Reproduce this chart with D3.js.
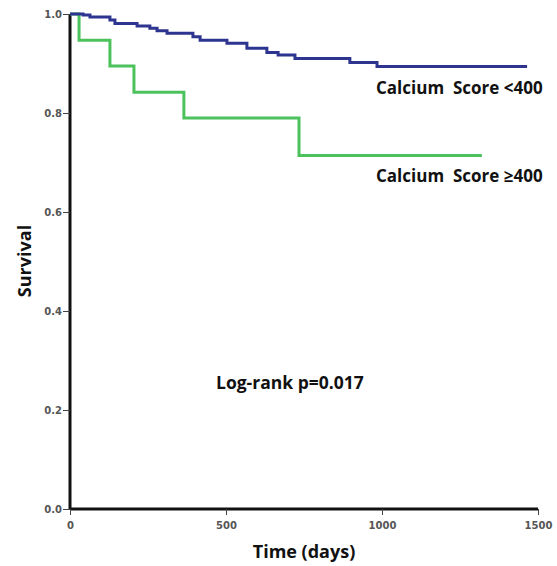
<!DOCTYPE html>
<html>
    <body style="margin:0;background:#fff">
        <svg></svg>
        <script src="https://d3js.org/d3.v7.min.js"></script>
        <script>
            const width = 557;
            const height = 566;

            // Calcium score < 400
            const lowTimes = [0, 42, 64, 128, 144, 215, 256, 279, 311, 394, 417, 503, 567, 631, 667, 721, 897, 984];
            const lowSurv = [1.0, 0.998, 0.994, 0.988, 0.981, 0.976, 0.971, 0.966, 0.961, 0.954, 0.947, 0.941, 0.931, 0.922, 0.917, 0.910, 0.902, 0.894];
            const lowEnd = 1465;
            // Calcium score >= 400
            const highTimes = [0, 29, 128, 205, 365, 734];
            const highSurv = [1.0, 0.947, 0.895, 0.842, 0.790, 0.714];
            const highEnd = 1320;

            const xTicks = [0, 500, 1000, 1500];
            const yTicks = [0, 0.2, 0.4, 0.6, 0.8, 1.0];

            const svg = d3.select('svg')
                .attr('width', width).attr('height', height);

            const x = d3.scaleLinear().domain([0, 1500]).range([70, 538]);
            const y = d3.scaleLinear().domain([0, 1]).range([509, 14]);

            const line = d3.line()
                .x(d => x(d[0]))
                .y(d => y(d[1]))
                .curve(d3.curveStepAfter);

            function toPoints(times, surv, end) {
                const pts = times.map((t, i) => [t, surv[i]]);
                pts.push([end, surv[surv.length - 1]]);
                return pts;
            }

            // axes
            const xAxis = svg.append('g')
                .attr('transform', 'translate(0,' + y(0) + ')')
                .call(d3.axisBottom(x).tickValues(xTicks).tickSize(6).tickFormat(d3.format('d')));
            const yAxis = svg.append('g')
                .attr('transform', 'translate(' + x(0) + ',0)')
                .call(d3.axisLeft(y).tickValues(yTicks).tickSize(7).tickFormat(d3.format('.1f')));

            [xAxis, yAxis].forEach(g => {
                g.select('.domain').attr('stroke', '#111').attr('stroke-width', 3);
                g.selectAll('.tick line').attr('stroke', '#444').attr('stroke-width', 1);
                g.selectAll('.tick text')
                    .attr('fill', '#555')
                    .style('font', 'bold 10px "DejaVu Sans"');
            });
            // no end caps on the axis lines
            xAxis.select('.domain').attr('d', 'M' + x(0) + ',0H' + x(1500));
            yAxis.select('.domain').attr('d', 'M0,' + y(0) + 'V' + y(1));
            xAxis.selectAll('.tick text').attr('dy', '1.1em');
            yAxis.selectAll('.tick text').attr('x', -8).attr('dy', '0.35em');

            // curves
            svg.append('path')
                .datum(toPoints(highTimes, highSurv, highEnd))
                .attr('d', line)
                .attr('fill', 'none')
                .attr('stroke', '#4cc25c')
                .attr('stroke-width', 3);
            svg.append('path')
                .datum(toPoints(lowTimes, lowSurv, lowEnd))
                .attr('d', line)
                .attr('fill', 'none')
                .attr('stroke', '#2e3590')
                .attr('stroke-width', 3);

            // labels
            svg.append('text').attr('x', 376).attr('y', 94)
                .style('font', 'bold 17px "Open Sans"').attr('fill', '#111')
                .attr('xml:space', 'preserve')
                .text('Calcium  Score <400');
            svg.append('text').attr('x', 376).attr('y', 182)
                .style('font', 'bold 17px "Open Sans"').attr('fill', '#111')
                .attr('xml:space', 'preserve')
                .text('Calcium  Score \u2265400');
            svg.append('text').attr('x', 216).attr('y', 389)
                .style('font', 'bold 17.5px "Open Sans"').attr('fill', '#111')
                .text('Log-rank p=0.017');

            svg.append('text')
                .attr('x', (x(0) + x(1500)) / 2).attr('y', 558)
                .attr('text-anchor', 'middle')
                .style('font', 'bold 18px "Open Sans"').attr('fill', '#111')
                .text('Time (days)');
            svg.append('text')
                .attr('transform', 'translate(31,261) rotate(-90)')
                .attr('text-anchor', 'middle')
                .style('font', 'bold 18px "Open Sans"').attr('fill', '#111')
                .text('Survival');
        </script>
    </body>
</html>
